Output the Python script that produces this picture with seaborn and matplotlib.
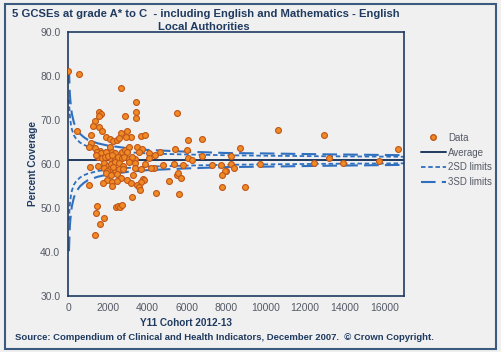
import numpy as np
import pandas as pd
import matplotlib
matplotlib.use("Agg")
import matplotlib.pyplot as plt
import seaborn as sns
from matplotlib.lines import Line2D
from matplotlib.patches import Rectangle

# cohort size and % achieving 5 A*-C incl. English & Maths
cohort = [15, 575, 2660, 3420, 3455, 3420, 2900, 1590, 1660, 1560, 1370, 1290, 1590, 1710, 470,
          1150, 1900, 2690, 2980, 3185, 2950, 3710, 3910, 5520, 6060, 6790, 2130, 2300, 2470, 2575,
          1150, 1080, 1370, 1625, 1460, 2130, 2220, 2730, 2900, 3065, 3490, 3745, 4080, 4640, 5435,
          10630, 6030, 8690, 12940, 16700,
          1650, 1900, 2400, 3000, 3600, 1500, 1700, 1850, 2100, 2400, 2550, 2750, 2850, 3100, 3400,
          4100, 6760, 8265, 6060, 6280, 13220, 2000, 2250, 1400, 3250, 4400,
          1120, 1800, 2000, 2200, 2400, 2600, 2800, 3100, 3400, 3900, 4330, 4800, 5350, 5825, 7265,
          7720, 8230, 8400, 9700, 12460, 13930, 15730, 1800, 2100, 2400, 2600, 2800, 3400, 3700, 4200,
          1500, 1950, 2300,
          1900, 2200, 2500, 2700, 3000, 3300, 3800, 3850, 7975, 7925, 7810, 5520, 5570, 5725, 1950,
          2250, 2500, 3200, 3700, 1070, 1790, 2220, 3490, 3575, 3660, 5100, 4470, 5600, 3235, 7810, 8940,
          1490, 2440, 2555, 2640, 2730, 1420, 1845, 1625, 1370]
pct = [81.2, 80.4, 77.2, 74.2, 71.8, 70.4, 70.8, 71.8, 71.3, 70.8, 69.8, 68.6, 68.5, 67.6, 67.4,
       66.7, 66.2, 67.0, 67.4, 66.2, 66.1, 66.4, 66.5, 71.5, 65.5, 65.6, 65.6, 65.3, 65.5, 65.9,
       64.8, 63.8, 63.6, 63.0, 62.8, 63.8, 62.8, 62.8, 63.2, 63.8, 63.8, 63.3, 62.6, 62.8, 63.3,
       67.7, 63.2, 63.6, 66.5, 63.3,
       62.5, 62.7, 62.6, 62.7, 62.7, 61.7, 61.3, 61.6, 61.4, 61.2, 61.6, 61.3, 61.7, 61.2, 61.1,
       61.3, 61.9, 61.9, 61.3, 60.9, 61.4, 61.9, 62.0, 62.1, 61.6, 62.0,
       59.4, 60.2, 59.6, 60.0, 60.4, 60.3, 59.6, 60.4, 60.2, 60.0, 59.0, 59.8, 60.0, 59.8, 59.7,
       59.7, 60.0, 59.2, 60.0, 60.2, 60.3, 60.7, 59.0, 58.8, 58.6, 58.8, 58.8, 59.0, 58.8, 59.0,
       59.5, 58.4, 59.3,
       57.9, 57.4, 57.7, 56.8, 56.4, 57.4, 56.6, 56.3, 58.5, 58.3, 57.5, 57.5, 58.0, 56.8, 56.4,
       55.9, 56.2, 55.7, 56.0, 55.2, 55.6, 55.0, 55.2, 54.8, 54.2, 56.2, 53.3, 53.1, 52.4, 54.8, 54.7,
       50.5, 50.3, 50.5, 50.2, 50.7, 48.9, 47.8, 46.3, 43.9]

average = 60.9

# control limits
lim_n = [50, 75, 100, 150, 200, 300, 400, 600, 800, 1000, 1500, 2000, 3000, 4000, 6000, 8000,
         10000, 13000, 17000]
upper_2sd = [74.7, 72.2, 70.7, 68.9, 67.8, 66.5, 65.8, 64.9, 64.35, 64.0, 63.4, 63.1, 62.7, 62.4,
             62.16, 61.99, 61.88, 61.76, 61.65]
lower_2sd = [47.1, 49.6, 51.1, 52.9, 54.0, 55.3, 56.0, 56.9, 57.45, 57.8, 58.4, 58.7, 59.1, 59.4,
             59.64, 59.81, 59.92, 60.04, 60.15]
upper_3sd = [81.6, 77.8, 75.5, 72.9, 71.3, 69.4, 68.2, 66.9, 66.1, 65.5, 64.7, 64.2, 63.6, 63.2,
             62.8, 62.5, 62.4, 62.2, 62.0]
lower_3sd = [40.2, 44.0, 46.3, 48.9, 50.5, 52.4, 53.6, 54.9, 55.7, 56.3, 57.1, 57.6, 58.2, 58.6,
             59.0, 59.3, 59.4, 59.6, 59.8]

df = pd.DataFrame({"cohort": cohort, "pct": pct})
lims = pd.DataFrame({"n": lim_n, "u2": upper_2sd, "l2": lower_2sd, "u3": upper_3sd, "l3": lower_3sd})
avg = pd.DataFrame({"n": [0, 17000], "avg": [average, average]})

sns.set_style("white")
plt.rcParams["font.family"] = ["Liberation Sans", "DejaVu Sans"]

bg = "#f0f0f0"
navy = "#1f3a60"
blue = "#2f6fbf"
txt = "#555a66"

fig = plt.figure(figsize=(5.01, 3.52), dpi=100, facecolor=bg)
ax = fig.add_axes([68 / 501, 1 - 296 / 352, 336 / 501, 264 / 352])
ax.set_facecolor(bg)

sns.lineplot(data=avg, x="n", y="avg", ax=ax, color=navy, lw=1.4, zorder=2)
for col in ["u2", "l2"]:
    sns.lineplot(data=lims, x="n", y=col, ax=ax, color=blue, lw=1.3, linestyle=(0, (2.5, 1.5)), zorder=2)
for col in ["u3", "l3"]:
    sns.lineplot(data=lims, x="n", y=col, ax=ax, color=blue, lw=1.5, linestyle=(0, (7, 3)), zorder=2)
sns.scatterplot(data=df, x="cohort", y="pct", ax=ax, color="#f08a24", edgecolor="#c0561a",
                linewidth=0.8, s=18, zorder=3)

ax.set_xlim(0, 17000)
ax.set_ylim(30, 90)
ax.set_xticks(np.arange(0, 16001, 2000))
ax.set_yticks(np.arange(30, 91, 10))
ax.set_yticklabels([f"{v:.1f}" for v in np.arange(30, 91, 10)])
ax.tick_params(axis="both", labelsize=7.5, colors=txt, length=3, width=1)
ax.tick_params(axis="x", direction="in", pad=5)
ax.tick_params(axis="y", direction="inout", pad=4)
for t in ax.get_xticklabels() + ax.get_yticklabels():
    t.set_color(txt)
for s in ax.spines.values():
    s.set_color(navy)
    s.set_linewidth(1.2)
ax.set_xlabel("")
ax.set_ylabel("")

fig.text(33 / 501, 1 - 164 / 352, "Percent Coverage", rotation=90, ha="center", va="center",
         fontsize=7.2, fontweight="bold", color=navy)
fig.text(186 / 501, 1 - 323 / 352, "Y11 Cohort 2012-13", ha="center", va="center",
         fontsize=7.2, fontweight="bold", color=navy)
fig.text(12 / 501, 1 - 14 / 352, "5 GCSEs at grade A* to C  - including English and Mathematics - English",
         ha="left", va="center", fontsize=8.1, fontweight="bold", color=navy)
fig.text(204 / 501, 1 - 27 / 352, "Local Authorities", ha="center", va="center",
         fontsize=8.1, fontweight="bold", color=navy)
fig.text(15 / 501, 1 - 338 / 352,
         "Source: Compendium of Clinical and Health Indicators, December 2007.  \u00a9 Crown Copyright.",
         ha="left", va="center", fontsize=6.8, fontweight="bold", color=navy)

handles = [
    Line2D([], [], marker="o", ls="", color="#f08a24", markeredgecolor="#c0561a", markersize=4),
    Line2D([], [], color=navy, lw=1.4),
    Line2D([], [], color=blue, lw=1.3, ls=(0, (2.5, 1.5))),
    Line2D([], [], color=blue, lw=1.5, ls=(0, (7, 3))),
]
leg = fig.legend(handles, ["Data", "Average", "2SD limits", "3SD limits"], loc="upper left",
                 bbox_to_anchor=(412 / 501, 1 - 124 / 352), frameon=False, fontsize=7,
                 handlelength=2.6, handletextpad=0.2, labelspacing=0.5)
for t in leg.get_texts():
    t.set_color(txt)

fig.patches.append(Rectangle((5 / 501, 3 / 352), 491 / 501, 345 / 352, transform=fig.transFigure,
                             fill=False, edgecolor="#3a5a80", lw=1.5))

fig.savefig("out.png", dpi=100, facecolor=bg)
